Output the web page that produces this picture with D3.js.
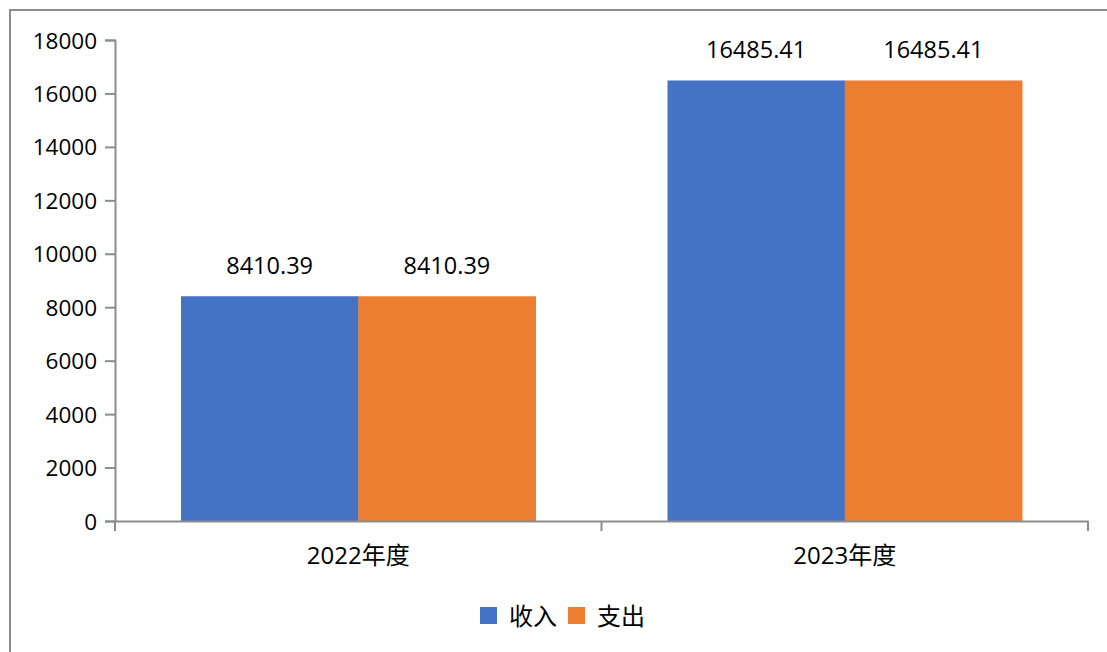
<!DOCTYPE html>
<html>
<head>
<meta charset="utf-8">
<script src="https://cdn.jsdelivr.net/npm/d3@7"></script>
<style>
	body { margin: 0; background: #fff; }
	text { font-family: "Open Sans", "Noto Sans CJK SC", sans-serif; fill: #000; }
</style>
</head>
<body>
<svg></svg>
<script>
var categories = ['2022年度', '2023年度'];
var seriesNames = ['收入', '支出'];
var income = [8410.39, 16485.41];
var expense = [8410.39, 16485.41];
var yTicks = [0, 2000, 4000, 6000, 8000, 10000, 12000, 14000, 16000, 18000];
var colors = ['#4472C4', '#ED7D31'];

var width = 1107;
var height = 652;
var margin = {
	top: 40,
	bottom: 131,
	left: 115,
	right: 19
};

var svg = d3.select('svg')
	.attr('width', width)
	.attr('height', height);

// chart frame
svg.append('rect')
	.attr('x', 10)
	.attr('y', 10)
	.attr('width', width)
	.attr('height', height)
	.attr('fill', 'none')
	.attr('stroke', '#8c8c8c')
	.attr('stroke-width', 2);

var innerW = width - margin.left - margin.right;
var innerH = height - margin.top - margin.bottom;

var g = svg.append('g')
	.attr('transform', `translate(${margin.left},${margin.top})`);

var x = d3.scaleBand()
	.domain(categories)
	.range([0, innerW]);

var x1 = d3.scaleBand()
	.domain(seriesNames)
	.range([66, x.bandwidth() - 66]);

var y = d3.scaleLinear()
	.domain([0, 18000])
	.range([innerH, 0]);

var data = categories.map((c, i) => ({
	cat: c,
	values: [income[i], expense[i]]
}));

var groups = g.selectAll('.grp')
	.data(data)
	.enter().append('g')
	.attr('transform', d => `translate(${x(d.cat)},0)`);

groups.selectAll('rect')
	.data(d => d.values.map((v, j) => ({ name: seriesNames[j], v: v, j: j })))
	.enter().append('rect')
	.attr('x', d => x1(d.name))
	.attr('y', d => y(d.v))
	.attr('width', x1.bandwidth() + 0.5)
	.attr('height', d => innerH - y(d.v))
	.attr('fill', d => colors[d.j]);

groups.selectAll('.lbl')
	.data(d => d.values.map((v, j) => ({ name: seriesNames[j], v: v })))
	.enter().append('text')
	.attr('x', d => x1(d.name) + x1.bandwidth() / 2)
	.attr('y', d => y(d.v) - 22)
	.attr('text-anchor', 'middle')
	.style('font-size', '23.5px')
	.text(d => d3.format('.2f')(d.v));

// y axis
var yAxis = d3.axisLeft(y)
	.tickValues(yTicks)
	.tickSize(10)
	.tickPadding(8)
	.tickFormat(d3.format('d'));

var yg = g.append('g').call(yAxis);
yg.selectAll('text').style('font-size', '22.5px').attr('dy', '0.36em');

// x axis
var xAxis = d3.axisBottom(x)
	.tickValues([])
	.tickSizeOuter(0);

var xg = g.append('g')
	.attr('transform', `translate(0,${innerH})`)
	.call(xAxis);

xg.selectAll('.sep')
	.data([0, innerW / 2, innerW])
	.enter().append('line')
	.attr('x1', d => d)
	.attr('x2', d => d)
	.attr('y1', 0)
	.attr('y2', 10)
	.attr('stroke', '#8c8c8c')
	.attr('stroke-width', 2);

xg.selectAll('.cat')
	.data(categories)
	.enter().append('text')
	.attr('x', d => x(d) + x.bandwidth() / 2)
	.attr('y', 43)
	.attr('text-anchor', 'middle')
	.style('font-size', '24px')
	.text(d => d);

[yg, xg].forEach(a => {
	a.select('.domain').attr('stroke', '#8c8c8c').attr('stroke-width', 2);
	a.selectAll('.tick line').attr('stroke', '#8c8c8c').attr('stroke-width', 2);
});

// legend
var legend = svg.append('g')
	.attr('transform', 'translate(480,607)');

var items = legend.selectAll('g')
	.data(seriesNames)
	.enter().append('g')
	.attr('transform', (d, i) => `translate(${i * 88},0)`);

items.append('rect')
	.attr('width', 17)
	.attr('height', 17)
	.attr('fill', (d, i) => colors[i]);

items.append('text')
	.attr('x', 29)
	.attr('y', 18)
	.style('font-size', '24px')
	.text(d => d);
</script>
</body>
</html>
